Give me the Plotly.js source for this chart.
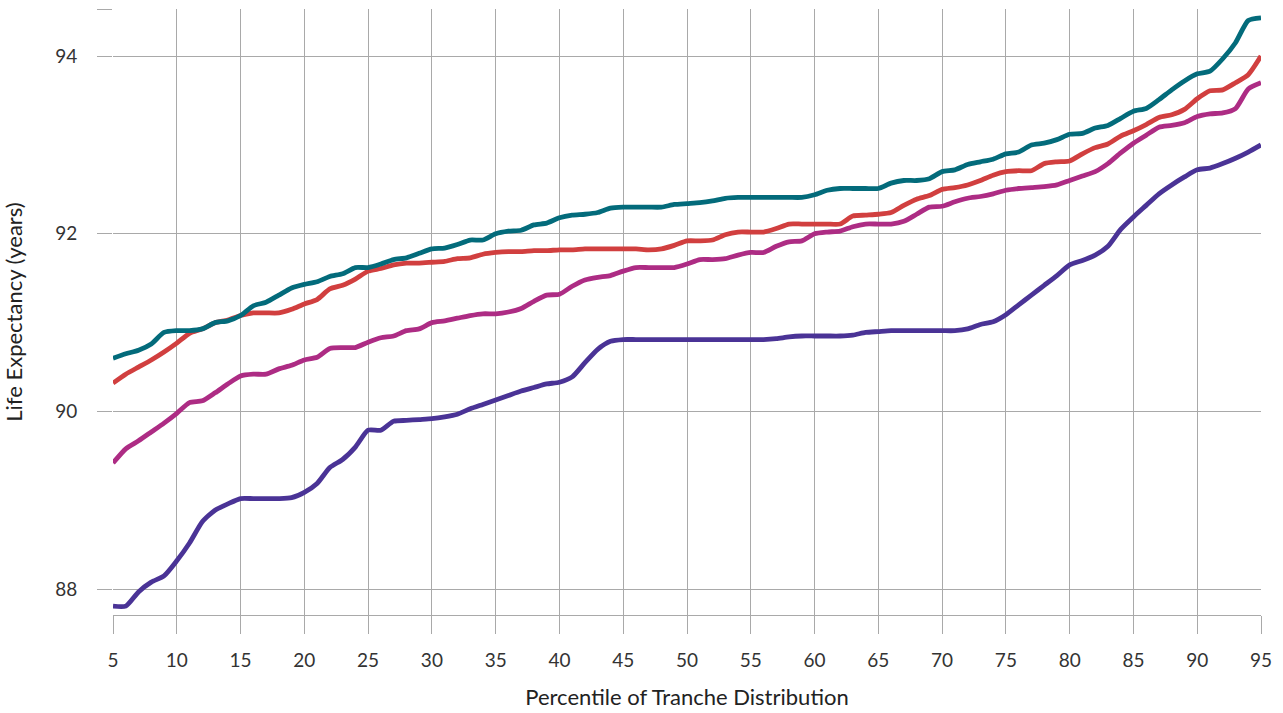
<!DOCTYPE html>
<html>
<head>
<meta charset="utf-8">
<script src="https://cdn.plot.ly/plotly-3.0.1.min.js"></script>
<style>
  html, body { margin: 0; padding: 0; background: #ffffff; }
  #chart { width: 1283px; height: 713px; }
</style>
</head>
<body>
<div id="chart"></div>
<script>
// Percentile of tranche distribution (x)
const percentiles = [];
for (let p = 5; p <= 95; p++) percentiles.push(p);

// Life expectancy series (years)
const tealSeries = [
  90.60, 90.65, 90.69, 90.76, 90.89, 90.91, 90.91, 90.93, 91.00, 91.02,
  91.08, 91.19, 91.23, 91.31, 91.39, 91.43, 91.46, 91.52, 91.55, 91.62,
  91.62, 91.66, 91.71, 91.73, 91.78, 91.83, 91.84, 91.88, 91.93, 91.93,
  92.00, 92.03, 92.04, 92.10, 92.12, 92.18, 92.21, 92.22, 92.24, 92.29,
  92.30, 92.30, 92.30, 92.30, 92.33, 92.34, 92.35, 92.37, 92.40, 92.41,
  92.41, 92.41, 92.41, 92.41, 92.41, 92.44, 92.49, 92.51, 92.51, 92.51,
  92.51, 92.57, 92.60, 92.60, 92.62, 92.70, 92.72, 92.78, 92.81, 92.84,
  92.90, 92.92, 93.00, 93.02, 93.06, 93.12, 93.13, 93.19, 93.22, 93.30,
  93.38, 93.41, 93.51, 93.62, 93.72, 93.80, 93.83, 93.97, 94.15, 94.40,
  94.43
];
const redSeries = [
  90.32, 90.42, 90.50, 90.58, 90.67, 90.77, 90.88, 90.93, 91.00, 91.03,
  91.08, 91.11, 91.11, 91.11, 91.15, 91.21, 91.26, 91.38, 91.42, 91.49,
  91.58, 91.61, 91.65, 91.67, 91.67, 91.68, 91.69, 91.72, 91.73, 91.77,
  91.79, 91.80, 91.80, 91.81, 91.81, 91.82, 91.82, 91.83, 91.83, 91.83,
  91.83, 91.83, 91.82, 91.83, 91.87, 91.92, 91.92, 91.93, 91.99, 92.02,
  92.02, 92.02, 92.06, 92.11, 92.11, 92.11, 92.11, 92.11, 92.20, 92.21,
  92.22, 92.24, 92.32, 92.39, 92.43, 92.50, 92.52, 92.55, 92.60, 92.66,
  92.70, 92.71, 92.71, 92.79, 92.81, 92.82, 92.90, 92.97, 93.01, 93.10,
  93.16, 93.23, 93.31, 93.34, 93.40, 93.52, 93.61, 93.62, 93.70, 93.79,
  94.00
];
const magentaSeries = [
  89.42, 89.58, 89.67, 89.77, 89.87, 89.98, 90.10, 90.12, 90.21, 90.31,
  90.40, 90.42, 90.42, 90.48, 90.52, 90.58, 90.61, 90.71, 90.72, 90.72,
  90.78, 90.83, 90.85, 90.91, 90.93, 91.00, 91.02, 91.05, 91.08, 91.10,
  91.10, 91.12, 91.16, 91.24, 91.31, 91.32, 91.41, 91.48, 91.51, 91.53,
  91.58, 91.62, 91.62, 91.62, 91.62, 91.66, 91.71, 91.71, 91.72, 91.76,
  91.79, 91.79, 91.86, 91.91, 91.92, 92.00, 92.02, 92.03, 92.08, 92.11,
  92.11, 92.11, 92.14, 92.22, 92.30, 92.31, 92.36, 92.40, 92.42, 92.45,
  92.49, 92.51, 92.52, 92.53, 92.55, 92.60, 92.65, 92.70, 92.79, 92.91,
  93.02, 93.11, 93.20, 93.22, 93.25, 93.32, 93.35, 93.36, 93.41, 93.63,
  93.70
];
const purpleSeries = [
  87.81, 87.81, 87.97, 88.08, 88.15, 88.32, 88.52, 88.76, 88.89, 88.96,
  89.02, 89.02, 89.02, 89.02, 89.03, 89.09, 89.19, 89.37, 89.46, 89.60,
  89.79, 89.79, 89.89, 89.90, 89.91, 89.92, 89.94, 89.97, 90.03, 90.08,
  90.13, 90.18, 90.23, 90.27, 90.31, 90.33, 90.39, 90.55, 90.70, 90.79,
  90.81, 90.81, 90.81, 90.81, 90.81, 90.81, 90.81, 90.81, 90.81, 90.81,
  90.81, 90.81, 90.82, 90.84, 90.85, 90.85, 90.85, 90.85, 90.86, 90.89,
  90.90, 90.91, 90.91, 90.91, 90.91, 90.91, 90.91, 90.93, 90.98, 91.01,
  91.09, 91.20, 91.31, 91.42, 91.53, 91.65, 91.70, 91.76, 91.86, 92.05,
  92.19, 92.32, 92.45, 92.55, 92.64, 92.72, 92.74, 92.79, 92.85, 92.92,
  93.00
];

const xTickVals = [5, 10, 15, 20, 25, 30, 35, 40, 45, 50, 55, 60, 65, 70, 75, 80, 85, 90, 95];
const yTickVals = [88, 90, 92, 94, 94.53];
const yTickText = ['88', '90', '92', '94', ''];

const gridColor = '#a9a9a9';
const fontFamily = 'Lato, "Open Sans", sans-serif';
const tickFont = { family: fontFamily, size: 19, color: '#333333', weight: 400 };
const titleFont = { family: fontFamily, size: 22, color: '#222222', weight: 400 };

function line(y, color) {
  return {
    type: 'scatter', mode: 'lines', x: percentiles, y: y,
    line: { color: color, width: 4.8, shape: 'spline', smoothing: 0.6 },
    hoverinfo: 'x+y', showlegend: false
  };
}

const data = [
  line(purpleSeries, '#4a3396'),
  line(magentaSeries, '#ad2c84'),
  line(redSeries, '#d13f3f'),
  line(tealSeries, '#036b7b')
];

const layout = {
  width: 1283, height: 713,
  margin: { l: 113, r: 22, t: 9, b: 98 },
  paper_bgcolor: '#ffffff', plot_bgcolor: '#ffffff',
  font: { family: fontFamily, color: '#333333', size: 19 },
  showlegend: false,
  xaxis: {
    range: [5, 95],
    tickvals: xTickVals,
    ticks: 'outside', ticklen: 18, tickwidth: 1, tickcolor: gridColor,
    showgrid: true, gridcolor: gridColor, gridwidth: 1,
    showline: true, linecolor: gridColor, linewidth: 1,
    zeroline: false,
    tickfont: tickFont,
    ticklabelstandoff: 10,
    title: { text: 'Percentile of Tranche Distribution', font: titleFont, standoff: 19 }
  },
  yaxis: {
    range: [87.71, 94.53],
    tickvals: yTickVals, ticktext: yTickText,
    ticks: 'outside', ticklen: 15, tickwidth: 1, tickcolor: gridColor,
    showgrid: true, gridcolor: gridColor, gridwidth: 1,
    showline: false, zeroline: false,
    tickfont: tickFont,
    ticklabelstandoff: 16,
    title: { text: 'Life Expectancy (years)', font: titleFont, standoff: 26 }
  }
};

Plotly.newPlot('chart', data, layout, { displayModeBar: false, staticPlot: true });
</script>
</body>
</html>
